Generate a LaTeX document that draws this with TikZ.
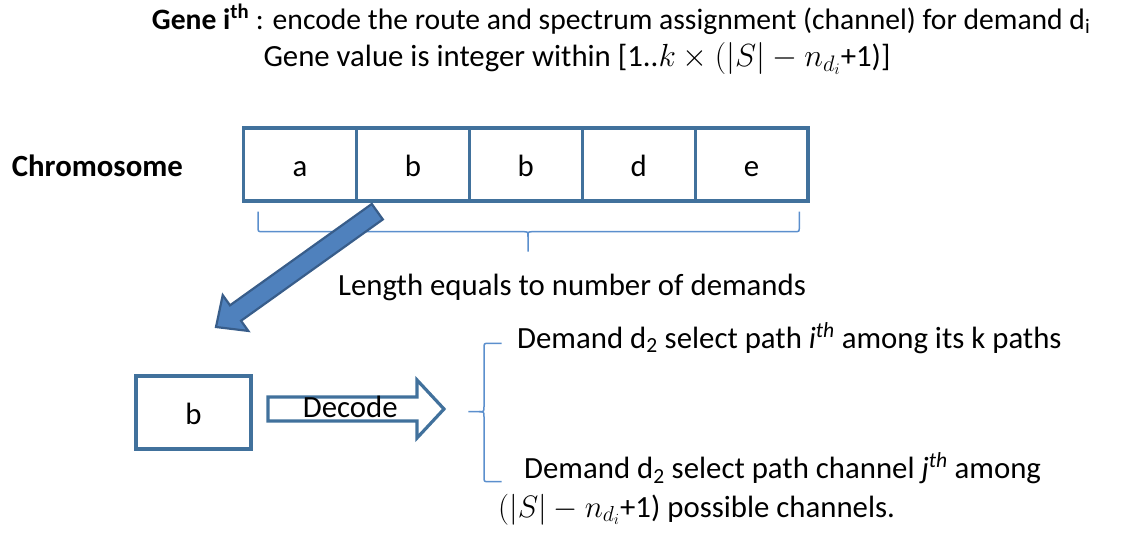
\RequirePackage{fix-cm}
\documentclass[tikz,border=0pt]{standalone}
\usepackage{fontspec}
\setmainfont{Carlito}
\usetikzlibrary{calc}
\definecolor{boxblue}{RGB}{65,113,156}
\definecolor{arrowfill}{RGB}{79,129,189}
\definecolor{arrowline}{RGB}{56,93,138}
\definecolor{bracecol}{RGB}{91,143,205}
\newcommand{\bigmath}[1]{{\fontsize{32}{38}\selectfont$#1$}}
\newcommand{\midmath}[1]{{\fontsize{31}{36}\selectfont$#1$}}
\tikzset{
  txt/.style={anchor=base west, inner sep=0pt, font=\fontsize{30.8}{36}\selectfont},
  cell/.style={draw=boxblue, line width=3.2pt, minimum width=112.9pt, minimum height=73pt,
    inner sep=0pt, text height=23pt, text depth=0pt, font=\fontsize{30.8}{36}\selectfont},
  bracestyle/.style={draw=bracecol, line width=1.5pt},
  outlinearrow/.style={draw=boxblue, line width=3.2pt, line join=miter},
  blockarrow/.style={draw=arrowline, fill=arrowfill, line width=2.2pt, line join=miter}
}
\begin{document}
\begin{tikzpicture}[x=1pt, y=-1pt]
\useasboundingbox (0,0) rectangle (1125,533);

% title
\node[txt, font=\fontsize{29.6}{35}\selectfont] (title1) at (151.7,29.3) {\textbf{Gene i\textsuperscript{th}} : encode the route and spectrum assignment (channel) for demand d\textsubscript{i}};
\node[txt] (title2) at (263.3,66.7) {Gene value is integer within [1..\bigmath{k\times(|S|-n_{d_i}}+1)]};

% chromosome
\node[txt, font=\fontsize{30.8}{36}\selectfont\bfseries] (chromlabel) at (11.7,176) {Chromosome};
\node[cell] (c1) at (299.95,164.5) {a};
\node[cell] (c2) at (412.85,164.5) {b};
\node[cell] (c3) at (525.75,164.5) {b};
\node[cell] (c4) at (638.65,164.5) {d};
\node[cell] (c5) at (751.55,164.5) {e};

% bottom brace
\draw[bracestyle] (258,211.7) -- (258,226.7) .. controls (258,231.7) .. (263,231.7)
  -- (523,231.7) .. controls (528,231.7) .. (528,236.7) -- (528,251.7);
\draw[bracestyle] (528,236.7) .. controls (528,231.7) .. (533,231.7)
  -- (794.3,231.7) .. controls (799.3,231.7) .. (799.3,226.7) -- (799.3,211.7);
\node[txt] (lengthtxt) at (338,295.7) {Length equals to number of demands};

% big arrow
\coordinate (arrS) at (377.3,211.7);
\coordinate (arrT) at (216,327);
\coordinate (arrH) at ($(arrT)!24pt!(arrS)$);
\draw[blockarrow] ($(arrS)!9.5pt!90:(arrT)$) -- ($(arrH)!9.5pt!90:(arrT)$) -- ($(arrH)!22pt!90:(arrT)$)
  -- (arrT) -- ($(arrH)!22pt!-90:(arrT)$) -- ($(arrH)!9.5pt!-90:(arrT)$) -- ($(arrS)!9.5pt!-90:(arrT)$) -- cycle;

% small box
\node[cell, minimum width=115pt] (bbox) at (193.5,412.5) {b};

% decode arrow
\draw[outlinearrow] (268,397) -- (417,397) -- (417,380) -- (444,409) -- (417,438) -- (417,421) -- (268,421) -- cycle;
\node[txt] (decode) at (302.7,417.3) {Decode};

% left brace
\draw[bracestyle] (501.7,343.3) -- (489,343.3) .. controls (484,343.3) .. (484,348.3)
  -- (484,406.7) .. controls (484,411.7) .. (479,411.7) -- (468.3,411.7);
\draw[bracestyle] (479,411.7) .. controls (484,411.7) .. (484,416.7)
  -- (484,476.7) .. controls (484,481.7) .. (489,481.7) -- (501.7,481.7);

% demand texts
\node[txt] (dem1) at (517,348.3) {Demand d\textsubscript{2} select path \textit{i\textsuperscript{th}} among its k paths};
\node[txt] (dem2) at (524,478.5) {Demand d\textsubscript{2} select path channel \textit{j\textsuperscript{th}} among};
\node[txt] (dem3) at (498,517) {\midmath{(|S|-n_{d_i}}+1) possible channels.};
\end{tikzpicture}
\end{document}
